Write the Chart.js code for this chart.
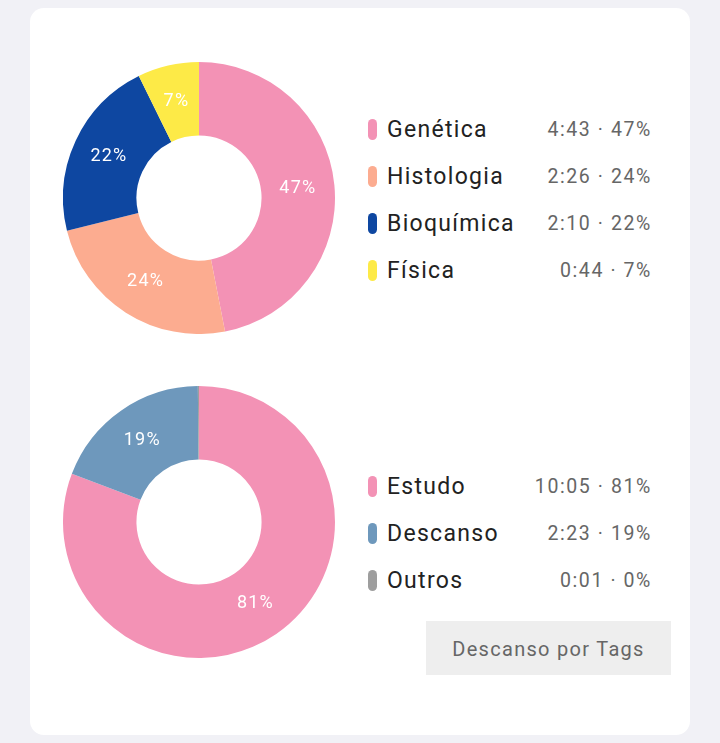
<!DOCTYPE html>
<html><head><meta charset="utf-8">
<script src="https://cdn.jsdelivr.net/npm/chart.js@4"></script>
<style>
body{margin:0;width:720px;height:743px;background:#f1f1f6;font-family:Roboto,sans-serif;position:relative;overflow:hidden}
.card{position:absolute;left:30px;top:8px;width:660px;height:727px;background:#fff;border-radius:14px}
.cv{position:absolute;width:272px;height:272px}
.leg{position:absolute;left:366px;width:286px}
.row{position:relative;height:47px;line-height:47px}
.dot{position:absolute;left:2px;top:13px;width:9px;height:21px;border-radius:5px}
.nm{position:absolute;left:21px;font-size:23px;color:#222;letter-spacing:1.3px}
.val{position:absolute;right:0;font-size:19.5px;color:#666;letter-spacing:1.6px}
.btn{position:absolute;left:426px;top:621px;width:245px;height:54px;background:#eeeeee;color:#666;font-size:20px;line-height:56px;text-align:center;letter-spacing:1.3px}
</style></head><body>
<div class="card"></div>
<div class="cv" style="left:63px;top:62px"><canvas id="c1"></canvas></div>
<div class="cv" style="left:63px;top:386px"><canvas id="c2"></canvas></div>
<div class="leg" id="l1" style="top:106px"></div>
<div class="leg" id="l2" style="top:463px"></div>
<div class="btn">Descanso por Tags</div>
<script>
const TAGS = ["Genética", "Histologia", "Bioquímica", "Física"];
const TAG_MIN = [283, 146, 130, 44];
const TAG_LABELS = ["4:43 · 47%", "2:26 · 24%", "2:10 · 22%", "0:44 · 7%"];
const TAG_COLORS = ["#f392b5", "#fcac90", "#0e47a1", "#fdea47"];

const KINDS = ["Estudo", "Descanso", "Outros"];
const KIND_MIN = [605, 143, 1];
const KIND_LABELS = ["10:05 · 81%", "2:23 · 19%", "0:01 · 0%"];
const KIND_COLORS = ["#f392b5", "#6e98bc", "#9e9e9e"];

const $ = (id) => document.getElementById(id);

// percent labels inside slices
const pctLabels = {
  id: "pctLabels",
  afterDatasetsDraw(chart) {
    const ctx = chart.ctx;
    const data = chart.data.datasets[0].data;
    const total = data.reduce((a, x) => a + x, 0);
    chart.getDatasetMeta(0).data.forEach((arc, i) => {
      const p = Math.round((data[i] / total) * 100);
      if (!p) return;
      const pos = arc.tooltipPosition();
      ctx.save();
      ctx.fillStyle = "#fff";
      ctx.font = "18px Roboto";
      ctx.letterSpacing = "1.2px";
      ctx.textAlign = "center";
      ctx.textBaseline = "middle";
      ctx.fillText(p + "%", pos.x, pos.y);
      ctx.restore();
    });
  }
};

function donut(id, labels, data, colors) {
  new Chart($(id), {
    type: "doughnut",
    data: { labels, datasets: [{ data, backgroundColor: colors, borderWidth: 0 }] },
    options: {
      responsive: true, maintainAspectRatio: false, animation: false,
      cutout: "46%",
      plugins: { legend: { display: false }, tooltip: { enabled: false } }
    },
    plugins: [pctLabels]
  });
}

function legend(id, names, vals, colors) {
  $(id).innerHTML = names.map((n, i) => `
    <div class="row"><span class="dot" style="background:${colors[i]}"></span>
    <span class="nm">${n}</span><span class="val">${vals[i]}</span></div>`).join("");
}

donut("c1", TAGS, TAG_MIN, TAG_COLORS);
donut("c2", KINDS, KIND_MIN, KIND_COLORS);
legend("l1", TAGS, TAG_LABELS, TAG_COLORS);
legend("l2", KINDS, KIND_LABELS, KIND_COLORS);
</script>
</body></html>
